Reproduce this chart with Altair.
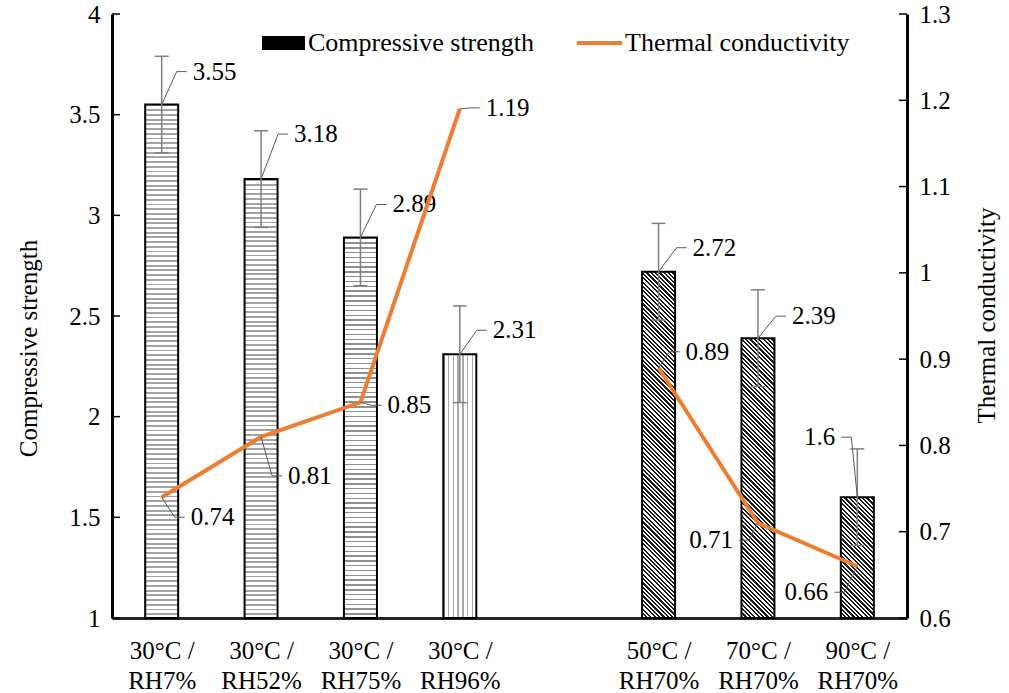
import json
import math

import altair as alt
import pandas as pd

# x slots: slot 4 stays empty to separate the two test series
temp_lines = ["30°C /", "30°C /", "30°C /", "30°C /", "", "50°C /", "70°C /", "90°C /"]
rh_lines = ["RH7%", "RH52%", "RH75%", "RH96%", "", "RH70%", "RH70%", "RH70%"]
slots = [0, 1, 2, 3, 5, 6, 7]

strength = [3.55, 3.18, 2.89, 2.31, 2.72, 2.39, 1.6]
strength_err = [0.24, 0.24, 0.24, 0.24, 0.24, 0.24, 0.24]
conductivity = [0.74, 0.81, 0.85, 1.19, 0.89, 0.71, 0.66]
line_segment = ["A", "A", "A", "A", "B", "B", "B"]
bar_pattern = ["rows", "rows", "dashes", "columns", "hatch", "hatch", "hatch"]

left_ticks = [1, 1.5, 2, 2.5, 3, 3.5, 4]
right_ticks = [0.6, 0.7, 0.8, 0.9, 1.0, 1.1, 1.2, 1.3]

# leader-line elbows, in pixels from the labelled point
bar_label_elbow = [(15, -33), (17, -45), (16, -33), (17, -24), (18, -24), (18, -22), (-6, -60)]
line_label_elbow = [(13, 20), (11, 39), (11, 3), (10, -1), (11, -16), (-9, 17), (-13, 26)]

W, H = 795, 604
X_DOMAIN = [-0.5, 7.5]
YL_DOMAIN = [1, 4]
YR_DOMAIN = [0.6, 1.3]
PX_X = W / (X_DOMAIN[1] - X_DOMAIN[0])
PX_YL = H / (YL_DOMAIN[1] - YL_DOMAIN[0])
PX_YR = H / (YR_DOMAIN[1] - YR_DOMAIN[0])
BAR_HALF_PX = 16.5
CAP_HALF_PX = 7
FONT = "Liberation Serif"
FS = 25
ORANGE = "#ED7D31"
GREY = "#7f7f7f"
LEADER = "#595959"

PATTERNS = {
    "rows": dict(direction="vertical", period=4.7, ink="#a3a3a3", share=0.4),
    "dashes": dict(direction="vertical", period=4.8, ink="#8f8f8f", share=0.3),
    "columns": dict(direction="horizontal", period=5.0, ink="#a8a8a8", share=0.3),
    "hatch": dict(direction="diagonal", period=3.1, ink="#1a1a1a", share=0.5),
}


def pattern_fill(name, w, h):
    """Striped linear gradient imitating a hatch pattern on a w x h bar."""
    p = PATTERNS[name]
    if p["direction"] == "vertical":
        coords = dict(x1=0, y1=0, x2=0, y2=1)
        span = h
    elif p["direction"] == "horizontal":
        coords = dict(x1=0, y1=0, x2=1, y2=0)
        span = w
    else:
        c = (w + h) / (w * w + h * h)
        coords = dict(x1=0, y1=1, x2=c * w, y2=1 - c * h)
        span = (w + h) / math.sqrt(2)
    n = max(1, round(span / p["period"]))
    stops = []
    for k in range(n):
        a = k / n
        b = (k + p["share"]) / n
        e = (k + 1) / n
        stops += [
            {"offset": round(a, 6), "color": p["ink"]},
            {"offset": round(b, 6), "color": p["ink"]},
            {"offset": round(b, 6), "color": "white"},
            {"offset": round(e, 6), "color": "white"},
        ]
    return {"gradient": "linear", "stops": stops, **coords}


df = pd.DataFrame({
    "slot": slots,
    "strength": strength,
    "err": strength_err,
    "cond": conductivity,
    "seg": line_segment,
})
df["x0"] = df["slot"] - BAR_HALF_PX / PX_X
df["x1"] = df["slot"] + BAR_HALF_PX / PX_X
df["base"] = float(YL_DOMAIN[0])
df["lo"] = df["strength"] - df["err"]
df["hi"] = df["strength"] + df["err"]
df["c0"] = df["slot"] - CAP_HALF_PX / PX_X
df["c1"] = df["slot"] + CAP_HALF_PX / PX_X


def label_table(values, elbows, px_y):
    rows = []
    for s, v, (dx, dy) in zip(slots, values, elbows):
        side = 1 if dx > 0 else -1
        ex = s + dx / PX_X
        ey = v - dy / px_y
        rows.append({
            "x": s, "y": v, "ex": ex, "ey": ey,
            "hx": ex + side * 10 / PX_X,
            "tx": ex + side * 16 / PX_X,
            "label": f"{v:g}", "side": side,
        })
    return pd.DataFrame(rows)


bar_labels = label_table(strength, bar_label_elbow, PX_YL)
line_labels = label_table(conductivity, line_label_elbow, PX_YR)

x_label_expr = (
    f"[{json.dumps(temp_lines, ensure_ascii=False)}[datum.value], "
    f"{json.dumps(rh_lines, ensure_ascii=False)}[datum.value]]"
)
x_axis = alt.Axis(
    values=slots, labelExpr=x_label_expr, title=None, orient="bottom",
    domainColor="#262626", domainWidth=3, labelPadding=20,
    labelLineHeight=30, labelBaseline="top",
)
left_axis = alt.Axis(
    values=left_ticks, format="~g", title="Compressive strength", orient="left",
    domainColor="black", domainWidth=3, labelPadding=12,
    titleAngle=270, titleBaseline="middle", titleX=-84, titleY=334,
)
right_axis = alt.Axis(
    values=right_ticks, format="~g", title="Thermal conductivity", orient="right",
    domainColor="black", domainWidth=3, labelPadding=12,
    titleAngle=270, titleBaseline="middle", titleX=79, titleY=301,
)


def X(field, axis=None):
    return alt.X(field, scale=alt.Scale(domain=X_DOMAIN, nice=False, zero=False), axis=axis)


def YL(field, axis=None):
    return alt.Y(field, scale=alt.Scale(domain=YL_DOMAIN, nice=False, zero=False), axis=axis)


def YR(field, axis=None):
    return alt.Y(field, scale=alt.Scale(domain=YR_DOMAIN, nice=False, zero=False), axis=axis)


layers = []

# ---- compressive strength bars (left axis) ----
for i, (s, v, pat) in enumerate(zip(slots, strength, bar_pattern)):
    w = 2 * BAR_HALF_PX
    h = (v - YL_DOMAIN[0]) * PX_YL
    first = i == 0
    layers.append(
        alt.Chart(df).transform_filter(alt.datum.slot == s)
        .mark_bar(fill=pattern_fill(pat, w, h), stroke="black", strokeWidth=2)
        .encode(
            x=X("x0:Q", x_axis if first else None), x2="x1:Q",
            y=YL("strength:Q", left_axis if first else None), y2="base:Q",
        )
    )

# error bars
err = alt.Chart(df)
layers += [
    err.mark_rule(color=GREY, strokeWidth=1.5).encode(x=X("slot:Q"), y=YL("lo:Q"), y2="hi:Q"),
    err.mark_rule(color=GREY, strokeWidth=1.5).encode(x=X("c0:Q"), x2="c1:Q", y=YL("hi:Q")),
    err.mark_rule(color=GREY, strokeWidth=1.5).encode(x=X("c0:Q"), x2="c1:Q", y=YL("lo:Q")),
]


def leader_layers(table, Y):
    base = alt.Chart(table)
    out = [
        base.mark_rule(color=LEADER, strokeWidth=1).encode(
            x=X("x:Q"), x2="ex:Q", y=Y("y:Q"), y2="ey:Q"),
        base.mark_rule(color=LEADER, strokeWidth=1).encode(
            x=X("ex:Q"), x2="hx:Q", y=Y("ey:Q")),
    ]
    for side, align in ((1, "left"), (-1, "right")):
        out.append(
            base.transform_filter(alt.datum.side == side)
            .mark_text(align=align, baseline="middle", font=FONT, fontSize=FS, color="black")
            .encode(x=X("tx:Q"), y=Y("ey:Q"), text="label:N")
        )
    return out


layers += leader_layers(bar_labels, YL)

# inward tick marks on the left axis
layers.append(
    alt.Chart(pd.DataFrame({"t": left_ticks})).mark_rule(color="black", strokeWidth=1.5).encode(
        y=YL("t:Q"), x=alt.value(0), x2=alt.value(8))
)

# legend
one = pd.DataFrame({"k": [0]})
layers += [
    alt.Chart(one).mark_rect(fill="black").encode(
        x=alt.value(150), x2=alt.value(193), y=alt.value(22), y2=alt.value(36)),
    alt.Chart(one).mark_text(align="left", baseline="middle", font=FONT, fontSize=FS + 1, color="black").encode(
        x=alt.value(196), y=alt.value(29), text=alt.value("Compressive strength")),
    alt.Chart(one).mark_rule(color=ORANGE, strokeWidth=4).encode(
        x=alt.value(465), x2=alt.value(510), y=alt.value(29)),
    alt.Chart(one).mark_text(align="left", baseline="middle", font=FONT, fontSize=FS + 1, color="black").encode(
        x=alt.value(513), y=alt.value(29), text=alt.value("Thermal conductivity")),
]

# ---- thermal conductivity line (right axis) ----
layers.append(
    alt.Chart(df).mark_line(color=ORANGE, strokeWidth=4).encode(
        x=X("slot:Q"), y=YR("cond:Q", right_axis), detail="seg:N")
)
layers += leader_layers(line_labels, YR)
layers.append(
    alt.Chart(pd.DataFrame({"t": right_ticks})).mark_rule(color="black", strokeWidth=1.5).encode(
        y=YR("t:Q"), x=alt.value(W - 8), x2=alt.value(W))
)

chart = (
    alt.layer(*layers)
    .resolve_scale(x="independent", y="independent")
    .properties(
        width=W, height=H,
        autosize=alt.AutoSizeParams(type="none"),
        padding={"left": 112, "top": 14, "right": 102, "bottom": 75},
        background="white",
    )
    .configure_view(stroke=None)
    .configure_axis(
        labelFont=FONT, titleFont=FONT, labelFontSize=FS, titleFontSize=FS,
        labelColor="black", titleColor="black", titleFontWeight="normal",
        grid=False, ticks=False,
    )
)

chart.save("out.html", embed_options={"renderer": "svg", "actions": False})
